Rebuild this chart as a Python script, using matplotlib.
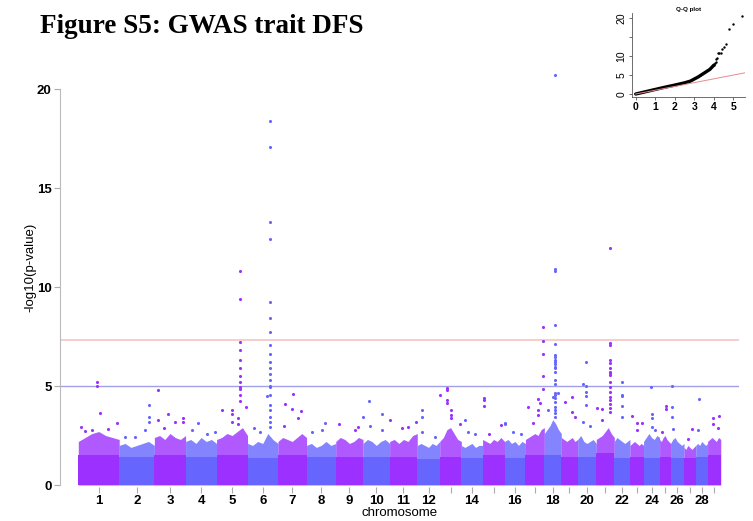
import numpy as np
import matplotlib.pyplot as plt

# chromosome lengths (Mb)
chrom_ids = list(range(1, 30))
chrom_len = [158.5, 136.2, 121.0, 120.0, 120.1, 117.8, 110.7, 113.3, 105.5, 103.3,
             107.0, 87.2, 83.5, 82.4, 85.0, 81.0, 73.2, 65.8, 63.4, 72.0,
             69.9, 60.8, 52.5, 62.3, 42.4, 52.0, 45.6, 45.9, 51.1]

# height of the solid band of SNPs per chromosome
base_top = [1.52, 1.43, 1.52, 1.43, 1.52, 1.37, 1.52, 1.43, 1.43, 1.43,
            1.43, 1.30, 1.43, 1.35, 1.52, 1.35, 1.52, 1.52, 1.43, 1.43,
            1.60, 1.35, 1.43, 1.35, 1.43, 1.35, 1.35, 1.43, 1.52]

# top of the dense speckle above the band, across each chromosome
cloud_top = [
    [2.2, 2.4, 2.6, 2.7, 2.5, 2.4, 2.3],
    [2.0, 2.1, 1.9, 2.0, 2.1, 2.2, 2.0],
    [2.4, 2.5, 2.3, 2.6, 2.4, 2.3, 2.5],
    [2.2, 2.3, 2.1, 2.4, 2.2, 2.3, 2.1],
    [2.3, 2.4, 2.6, 2.5, 2.7, 2.9, 2.5],
    [2.1, 2.0, 2.2, 2.1, 2.6, 2.3, 2.1],
    [2.2, 2.4, 2.3, 2.2, 2.4, 2.6, 2.4],
    [2.0, 2.1, 1.9, 2.0, 2.2, 2.0, 2.1],
    [2.2, 2.4, 2.3, 2.1, 2.2, 2.4, 2.3],
    [2.1, 2.3, 2.2, 2.0, 2.2, 2.3, 2.1],
    [2.2, 2.3, 2.1, 2.3, 2.2, 2.5, 2.6],
    [2.0, 2.1, 2.0, 1.9, 2.1, 2.0, 2.2],
    [2.2, 2.4, 2.8, 2.9, 2.6, 2.3, 2.2],
    [2.0, 1.9, 2.0, 2.1, 1.9, 2.0, 2.0],
    [2.3, 2.2, 2.1, 2.3, 2.2, 2.4, 2.2],
    [2.2, 2.3, 2.1, 2.2, 2.0, 2.2, 2.1],
    [2.3, 2.4, 2.5, 2.6, 2.5, 2.8, 2.9],
    [2.6, 2.8, 3.0, 3.3, 3.1, 2.8, 2.6],
    [2.4, 2.3, 2.2, 2.3, 2.4, 2.2, 2.3],
    [2.3, 2.5, 2.2, 2.1, 2.2, 2.3, 2.1],
    [2.3, 2.4, 2.5, 2.7, 2.9, 2.6, 2.4],
    [2.2, 2.4, 2.3, 2.2, 2.1, 2.2, 2.3],
    [2.0, 2.1, 2.2, 2.1, 2.0, 2.1, 2.0],
    [2.2, 2.4, 2.6, 2.4, 2.3, 2.5, 2.4],
    [2.3, 2.2, 2.4, 2.5, 2.3, 2.2, 2.1],
    [2.1, 2.3, 2.4, 2.2, 2.1, 2.0, 2.1],
    [1.9, 1.8, 2.0, 1.9, 1.8, 1.9, 2.0],
    [2.0, 2.1, 2.0, 2.2, 2.1, 2.0, 2.1],
    [2.2, 2.3, 2.4, 2.3, 2.2, 2.4, 2.3],
]

# individual SNPs above the cloud: chromosome, position (Mb), -log10(p)
hit_chrom = [1, 1, 1, 1, 1, 1, 1,
             2, 2, 2, 2,
             3, 3, 3, 3, 3,
             4, 4, 4, 4,
             5, 5, 5, 5, 5,
             6, 6, 6, 6,
             7, 7, 7, 7, 7, 7,
             8, 8, 8,
             9, 9, 9,
             10, 10, 10, 10,
             11, 11, 11, 11,
             12, 12,
             13, 13, 13, 13,
             14, 14, 14,
             15, 15, 15,
             16, 16, 16,
             17, 17, 17, 17, 17,
             18, 18, 18, 18,
             19, 19, 19,
             20, 20, 20,
             21, 21, 21,
             22,
             23, 23, 23,
             24, 24, 24,
             25, 25,
             26, 26,
             27, 27,
             28, 28,
             29, 29, 29]
hit_pos = [71, 84, 149, 9, 26, 115, 53,
           117, 100, 22, 61,
           15, 54, 80, 112, 37,
           49, 82, 114, 25,
           91, 20, 58, 116, 83,
           87, 74, 25, 48,
           59, 27, 53, 88, 79, 23,
           72, 60, 21,
           12, 74, 87,
           23, 1, 28, 75,
           1, 46, 71, 104,
           17, 69,
           27, 2, 42, 78,
           14, 53, 25,
           5, 71, 25,
           2, 33, 63,
           11, 30, 50, 56, 67,
           41, 35, 54, 15,
           14, 40, 53,
           32, 19, 47,
           53, 2, 21,
           29,
           9, 26, 45,
           29, 31, 44,
           24, 9,
           4, 9,
           30, 15,
           12, 10,
           44, 22, 40]
hit_logp = [[5.22, 5.0], [3.62], [3.15], [2.95], [2.75], [2.85], [2.8],
            [4.04, 3.45, 3.17], [2.8], [2.45], [2.4],
            [4.8, 3.27], [3.58], [3.2], [3.37, 3.2], [2.9],
            [3.15], [2.6], [2.7], [2.8],
            [10.8, 9.39, 7.2, 6.8, 6.3, 5.9, 5.5, 5.2, 4.96, 4.83, 4.55, 4.26],
            [3.79], [3.79, 3.57, 3.2], [3.95], [3.4, 3.1],
            [18.4, 17.05, 13.27, 12.42, 9.22, 8.42, 7.74, 7.07, 6.6, 6.2, 5.9, 5.6,
             5.3, 5.02, 4.93, 4.55, 4.04, 3.79, 3.45, 3.2, 2.95],
            [4.49], [2.9], [2.7],
            [4.6], [4.07], [3.82], [3.74], [3.4], [2.98],
            [3.12], [2.8], [2.7],
            [3.06], [2.78], [2.95],
            [4.24], [3.42], [3.0], [3.59, 2.8],
            [3.28], [2.9], [2.95], [3.2],
            [3.79, 3.42, 2.7], [2.45],
            [4.88, 4.8, 4.29, 4.16], [4.55], [3.79, 3.53, 3.4], [3.1],
            [3.28], [2.6], [2.7],
            [4.38, 4.27, 3.99], [3.03], [2.6],
            [3.15, 3.1], [2.7], [2.6],
            [3.95], [3.12], [4.34, 3.79, 3.54], [4.12], [8.0, 7.29, 6.62, 5.5, 4.83],
            [20.7, 10.9, 10.8, 8.08, 7.1, 6.57, 6.48, 6.31, 6.23, 6.11, 5.97, 5.89,
             5.72, 5.3, 5.1, 4.66, 4.55, 4.41, 4.2, 3.95, 3.79, 3.62, 3.45],
            [4.46], [4.63], [3.79],
            [4.21], [4.46, 3.7], [3.45],
            [6.23, 5.0, 4.7, 4.49, 4.04], [5.1, 3.2], [3.0],
            [11.95, 7.15, 7.07, 6.31, 6.14, 5.89, 5.72, 5.64, 5.55, 5.22, 4.93, 4.7,
             4.46, 4.29, 4.1, 3.9, 3.7],
            [3.87], [3.82, 3.28],
            [5.22, 4.55, 4.49, 3.99, 3.45],
            [3.5], [3.15, 2.78], [3.15],
            [4.93], [3.59, 3.37, 2.95], [2.8],
            [3.99, 3.82], [2.7],
            [5.0, 3.95, 3.42], [2.85],
            [2.85], [2.3],
            [4.34], [2.8],
            [3.48], [3.37, 3.08], [2.9]]

# Q-Q plot: bulk of the observed curve
qq_exp = [0.0, 0.5, 1.0, 1.5, 2.0, 2.5, 2.8, 3.0, 3.2, 3.5, 3.8, 4.0]
qq_obs = [0.0, 0.6, 1.2, 1.8, 2.35, 2.95, 3.4, 3.95, 4.5, 5.5, 6.5, 7.6]
n_snps = 144000

col_odd = '#9B30FF'
col_even = '#6666FF'
plt.rcParams['font.family'] = ['Liberation Sans', 'DejaVu Sans']

fig = plt.figure(figsize=(7.53, 5.21), dpi=100)
ax = fig.add_axes([60 / 753, 34 / 521, 679 / 753, 417.8 / 521])

starts = np.concatenate([[0], np.cumsum(chrom_len)[:-1]])
centers = starts + np.array(chrom_len) / 2

for i, c in enumerate(chrom_ids):
    col = col_odd if c % 2 == 1 else col_even
    s, e = starts[i], starts[i] + chrom_len[i]
    ax.fill_between([s, e], 0, base_top[i], color=col, lw=0, zorder=2)
    xs = np.linspace(s, e, len(cloud_top[i]))
    ax.fill_between(xs, 0, cloud_top[i], color=col, alpha=0.8, lw=0, zorder=1)

for c, p, vals in zip(hit_chrom, hit_pos, hit_logp):
    col = col_odd if c % 2 == 1 else col_even
    x = starts[c - 1] + p
    ax.scatter([x] * len(vals), vals, s=5, color=col, lw=0, zorder=3)

ax.axhline(-np.log10(5e-8), color='#F4C0C0', lw=1.1, zorder=0)
ax.axhline(5, color='#A0A0E8', lw=1.0, zorder=0)

ax.set_xlim(-70.9, 2560)
ax.set_ylim(-0.1, 21)
for sp in ['top', 'right', 'bottom']:
    ax.spines[sp].set_visible(False)
ax.spines['left'].set_bounds(0, 20)
ax.spines['left'].set_color('#BBBBBB')

ax.set_yticks([0, 5, 10, 15, 20])
ax.set_xticks(centers)
ax.set_xticklabels([str(c) if c <= 12 or c % 2 == 0 else '' for c in chrom_ids])
ax.tick_params(axis='both', colors='#AAAAAA', labelcolor='black', length=4,
               labelsize=9.5, pad=2)
for lab in ax.get_xticklabels() + ax.get_yticklabels():
    lab.set_fontweight('bold')

fig.text(400 / 753, 1 - 513 / 521, 'chromosome', ha='center', va='center', fontsize=9.5)
fig.text(30 / 753, 1 - 267 / 521, '-log10(p-value)', ha='center', va='center',
         rotation=90, fontsize=9.5)
fig.text(40 / 753, 1 - 33 / 521, 'Figure S5: GWAS trait DFS', ha='left', va='baseline',
         fontsize=19.5, fontweight='bold', family='Liberation Serif')

# Q-Q inset
ax2 = fig.add_axes([631.7 / 753, (521 - 96.7) / 521, 113.3 / 753, 83.4 / 521])
top_vals = sorted([v for vals in hit_logp for v in vals if v > 7.5], reverse=True)
ranks = np.arange(1, len(top_vals) + 1)
top_exp = -np.log10((ranks - 0.5) / n_snps)
ax2.plot(qq_exp, qq_obs, color='black', lw=2.4, solid_capstyle='round')
ax2.scatter(top_exp, top_vals, s=3, color='black', lw=0)
ax2.plot([0, 5.6], [0, 5.6], color='#E58C8C', lw=0.7)
ax2.set_xlim(-0.205, 5.6)
ax2.set_ylim(-0.71, 21.3)
for sp in ['top', 'right']:
    ax2.spines[sp].set_visible(False)
for sp in ['left', 'bottom']:
    ax2.spines[sp].set_linewidth(0.6)
    ax2.spines[sp].set_color('#555555')
ax2.set_xticks([0, 1, 2, 3, 4, 5])
ax2.set_yticks([0, 5, 10, 15, 20])
ax2.set_yticklabels(['0', '5', '10', '', '20'], rotation=90, va='center')
ax2.tick_params(axis='both', length=2.5, width=0.6, colors='#555555',
                labelcolor='black', labelsize=7.5, pad=1.5)
for lab in ax2.get_xticklabels():
    lab.set_fontweight('bold')
ax2.set_title('Q-Q plot', fontsize=4.5, fontweight='bold', pad=1.5)

fig.savefig('out.png', dpi=100)
